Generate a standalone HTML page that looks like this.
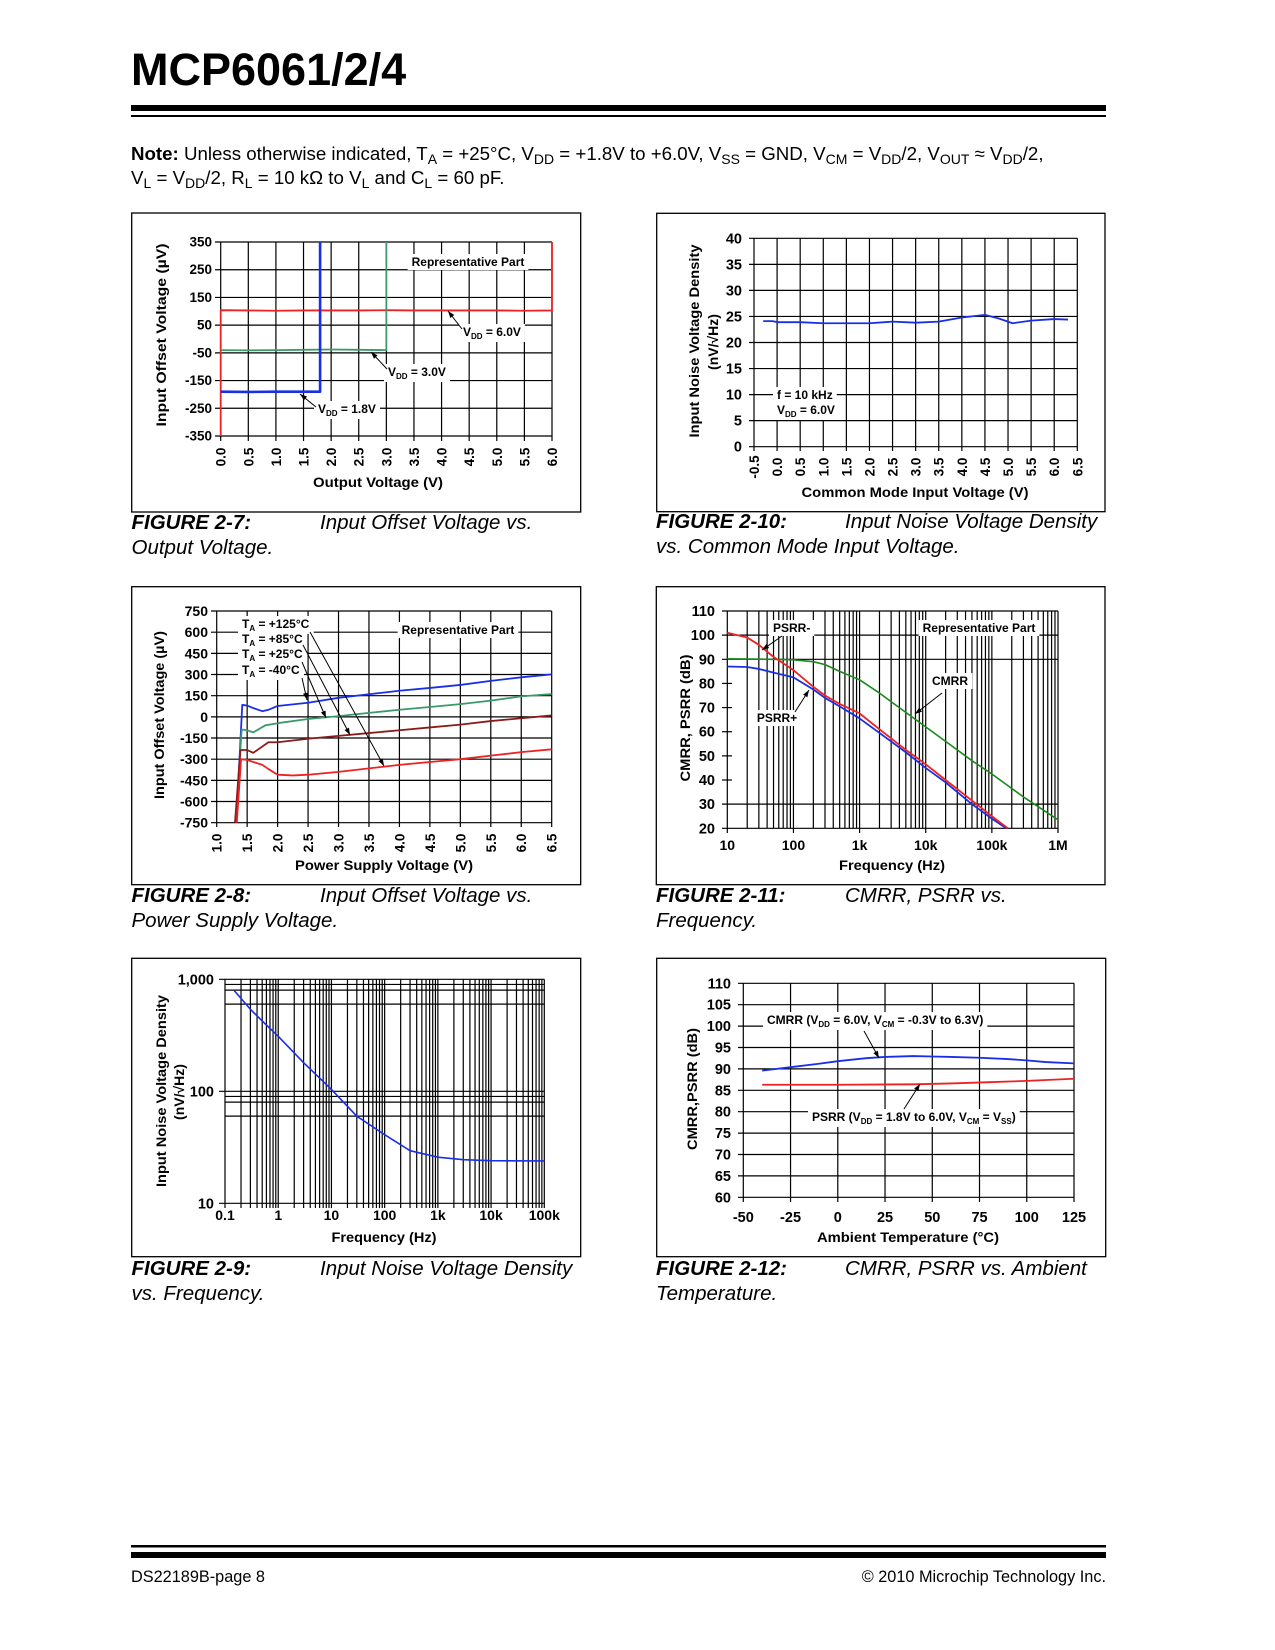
<!DOCTYPE html>
<html><head><meta charset="utf-8">
<style>
html,body{margin:0;padding:0;background:#fff;}
body{width:1275px;height:1650px;position:relative;overflow:hidden;font-family:"Liberation Sans",Arial,sans-serif;}
#note{position:absolute;left:131px;top:142px;font-size:18.7px;line-height:24px;color:#000;white-space:nowrap;}
#note sub{font-size:14px;vertical-align:-4px;line-height:0;}
svg{position:absolute;left:0;top:0;}
</style></head>
<body>
<div id="note"><b>Note:</b> Unless otherwise indicated, T<sub>A</sub> = +25°C, V<sub>DD</sub> = +1.8V to +6.0V, V<sub>SS</sub> = GND, V<sub>CM</sub> = V<sub>DD</sub>/2, V<sub>OUT</sub> ≈ V<sub>DD</sub>/2,<br>V<sub>L</sub> = V<sub>DD</sub>/2, R<sub>L</sub> = 10 kΩ to V<sub>L</sub> and C<sub>L</sub> = 60 pF.</div>
<svg id="page" width="1275" height="1650" viewBox="0 0 1275 1650" xmlns="http://www.w3.org/2000/svg" font-family="Liberation Sans, Arial, sans-serif">
<text x="131" y="85" font-size="45" font-weight="bold">MCP6061/2/4</text>
<rect x="131" y="105" width="975" height="6" fill="#000"/>
<rect x="131" y="115" width="975" height="2" fill="#000"/>
<rect x="131" y="1545" width="975" height="2.5" fill="#000"/>
<rect x="131" y="1552" width="975" height="6" fill="#000"/>
<text x="131" y="1582" font-size="16.3">DS22189B-page 8</text>
<text x="1106" y="1582" font-size="16.3" text-anchor="end">© 2010 Microchip Technology Inc.</text>
</svg>
<script>
// ---------- chart data ----------
// Fig 2-7
const f7RedX=[0,0,0.5,1,1.5,2,2.5,3,3.5,4,4.5,5,5.5,6,6];
const f7RedY=[-350,104,103,102,103,103,103,104,103,103,103,103,102,103,350];
const f7GreenX=[0,0.5,1,1.5,2,2.5,3,3];
const f7GreenY=[-40,-41,-40,-39,-38,-39,-40,350];
const f7BlueX=[0,0.5,1,1.5,1.8,1.8];
const f7BlueY=[-190,-191,-190,-190,-190,350];
const f7XTicks=["0.0","0.5","1.0","1.5","2.0","2.5","3.0","3.5","4.0","4.5","5.0","5.5","6.0"];
const f7YTicks=[350,250,150,50,-50,-150,-250,-350];
// Fig 2-10
const f10X=[-0.3,-0.1,0,0.5,1,1.5,2,2.5,3,3.5,4,4.5,4.8,5.1,5.5,6,6.3];
const f10Y=[24.1,24.1,23.9,23.9,23.7,23.7,23.7,24.0,23.8,24.0,24.8,25.3,24.6,23.7,24.2,24.5,24.4];
const f10XTicks=["-0.5","0.0","0.5","1.0","1.5","2.0","2.5","3.0","3.5","4.0","4.5","5.0","5.5","6.0","6.5"];
const f10YTicks=[40,35,30,25,20,15,10,5,0];
// Fig 2-8
const f8BlueX=[1.32,1.42,1.5,1.6,1.75,1.85,2.0,2.5,3.0,3.5,4.0,4.5,5.0,5.5,6.0,6.5];
const f8BlueY=[-750,85,80,62,40,50,77,100,135,160,185,205,226,255,280,301];
const f8GreenX=[1.31,1.41,1.5,1.6,1.8,2.0,2.5,3.0,3.5,4.0,4.5,5.0,5.5,6.0,6.5];
const f8GreenY=[-750,-90,-95,-110,-60,-45,-15,5,28,50,70,90,115,145,162];
const f8BrownX=[1.3,1.39,1.5,1.6,1.85,2.0,2.5,3.0,3.5,4.0,4.5,5.0,5.5,6.0,6.5];
const f8BrownY=[-750,-235,-235,-255,-180,-180,-155,-135,-115,-95,-75,-55,-30,-10,10];
const f8RedX=[1.33,1.4,1.5,1.6,1.75,1.85,2.0,2.25,2.5,3.0,3.5,4.0,4.5,5.0,5.5,6.0,6.5];
const f8RedY=[-750,-300,-305,-320,-340,-370,-410,-415,-410,-390,-365,-340,-320,-300,-275,-250,-230];
const f8XTicks=["1.0","1.5","2.0","2.5","3.0","3.5","4.0","4.5","5.0","5.5","6.0","6.5"];
const f8YTicks=[750,600,450,300,150,0,-150,-300,-450,-600,-750];
// Fig 2-11
const f11F=[10,20,30,50,100,200,300,500,1000,2000,5000,10000,20000,50000,100000,175000];
const f11PsrrMinus=[101,99,96,91,85.5,78.6,75,71.5,67.6,61,52.5,46.5,40,31.5,25,20];
const f11PsrrPlusF=[10,20,30,50,100,200,300,500,1000,2000,5000,10000,20000,50000,100000,165000];
const f11PsrrPlus=[87,86.8,86,84.5,82.5,77.5,74,70.5,65.5,59.5,51.5,45,39,30,24,20];
const f11CmrrF=[10,50,100,200,300,500,1000,2000,5000,10000,20000,50000,100000,300000,1000000];
const f11Cmrr=[90.2,90,89.8,89,87.8,85,81.5,76,68,62,56,48,42.5,33,23.5];
const f11XTicks=["10","100","1k","10k","100k","1M"];
const f11YTicks=[110,100,90,80,70,60,50,40,30,20];
// Fig 2-9
const f9F=[0.15,0.3,0.6,1,3,10,30,100,300,1000,3000,10000,100000];
const f9N=[790,540,390,310,180,104,60,41,29.5,25.8,24.5,24,23.9];
const f9XTicks=["0.1","1","10","100","1k","10k","100k"];
const f9YTicks=["1,000","100","10"];
// Fig 2-12
const f12T=[-40,-25,-10,0,15,25,40,50,60,75,90,100,110,125];
const f12Cmrr=[89.6,90.4,91.2,91.8,92.5,92.8,93.0,92.9,92.8,92.6,92.3,92.0,91.6,91.3];
const f12PsrrT=[-40,0,40,60,80,100,125];
const f12Psrr=[86.3,86.3,86.4,86.6,86.9,87.2,87.7];
const f12XTicks=[-50,-25,0,25,50,75,100,125];
const f12YTicks=[110,105,100,95,90,85,80,75,70,65,60];

// ---------- helpers ----------
const NS='http://www.w3.org/2000/svg';
const page=document.getElementById('page');
function mk(parent,tag,attrs,name){
  const el=document.createElementNS(NS,tag);
  for(const k in attrs) el.setAttribute(k,attrs[k]);
  
  
  parent.appendChild(el);
  return el;
}
function lin(d0,d1,p0,p1){return v=>p0+(v-d0)/(d1-d0)*(p1-p0);}
function lg(d0,d1,p0,p1){return v=>p0+(Math.log10(v)-Math.log10(d0))/(Math.log10(d1)-Math.log10(d0))*(p1-p0);}
function txt(g,x,y,html,o){
  o=o||{};
  const t=mk(g,'text',{x:x,y:y,'font-size':o.size||12,'font-weight':o.weight||'bold','text-anchor':o.anchor||'start','font-style':o.style||'normal'},o.name||'label');
  if(o.rot) t.setAttribute('transform','rotate(-90 '+x+' '+y+')');
  t.innerHTML=html;
  if(o.len){t.setAttribute('textLength',o.len);t.setAttribute('lengthAdjust','spacingAndGlyphs');}
  if(o.bg){
    const b=t.getBBox();
    const r=document.createElementNS(NS,'rect');
    r.setAttribute('x',b.x-4);r.setAttribute('y',b.y-1);r.setAttribute('width',b.width+8);r.setAttribute('height',b.height+2);r.setAttribute('fill','#fff');
    
    
    g.insertBefore(r,t);
  }
  return t;
}
function sub(s){return '<tspan dy="3" font-size="8">'+s+'</tspan><tspan dy="-3">';}
function ln(g,x1,y1,x2,y2,name,w,c){return mk(g,'line',{x1:x1,y1:y1,x2:x2,y2:y2,stroke:c||'#000','stroke-width':w||1.2},name);}
function series(g,xs,ys,sx,sy,color,w,name){
  let d='';
  for(let i=0;i<xs.length;i++){d+=(i?'L':'M')+sx(xs[i]).toFixed(2)+' '+sy(ys[i]).toFixed(2);}
  return mk(g,'path',{d:d,fill:'none',stroke:color,'stroke-width':w,'stroke-linejoin':'round'},name);
}
function arrow(g,x1,y1,x2,y2,name){
  ln(g,x1,y1,x2,y2,name,1);
  const a=Math.atan2(y2-y1,x2-x1),L=7,W=2.5;
  const p=[[x2,y2],[x2-L*Math.cos(a)+W*Math.sin(a),y2-L*Math.sin(a)-W*Math.cos(a)],[x2-L*Math.cos(a)-W*Math.sin(a),y2-L*Math.sin(a)+W*Math.cos(a)]];
  mk(g,'polygon',{points:p.map(q=>q.join(',')).join(' '),fill:'#000'},name+'-head');
}
function frame(x1,y1,x2,y2,name){mk(page,'rect',{x:x1,y:y1,width:x2-x1,height:y2-y1,fill:'none',stroke:'#000','stroke-width':1.3},name);}
function caption(x,y,num,l1,l2,dx){
  txt(page,x,y,'FIGURE '+num+':',{size:20.5,weight:'bold',style:'italic',name:'figure-'+num.replace('.','-')+'-number'});
  txt(page,dx,y,l1,{size:20.5,weight:'normal',style:'italic',name:'figure-caption'});
  txt(page,x,y+25,l2,{size:20.5,weight:'normal',style:'italic',name:'figure-caption-line2'});
}

// ---------- Figure 2-7 ----------
(function(){
  const g=mk(page,'g',{},'figure-2-7-chart');
  frame(131.7,213,580.7,512,'figure-2-7-frame');
  const sx=lin(0,6,220.7,552), sy=lin(-350,350,436,242);
  f7YTicks.forEach(v=>{ln(g,215,sy(v),552,sy(v),'h-gridline');txt(g,212,sy(v)+4.5,v,{size:13.5,anchor:'end',name:'y-tick-label'});});
  f7XTicks.forEach(v=>{const x=sx(+v);ln(g,x,242,x,441,'v-gridline');txt(g,x+5,457,v,{size:13.5,anchor:'middle',rot:true,name:'x-tick-label'});});
  txt(g,468,266,'Representative Part',{size:12,anchor:'middle',bg:true,name:'representative-part-note'});
  txt(g,463,336,'V'+sub('DD')+' = 6.0V</tspan>',{size:12,bg:true,name:'vdd-6v-label'});
  txt(g,388,376,'V'+sub('DD')+' = 3.0V</tspan>',{size:12,bg:true,name:'vdd-3v-label'});
  txt(g,318,413,'V'+sub('DD')+' = 1.8V</tspan>',{size:12,bg:true,name:'vdd-1-8v-label'});
  series(g,f7RedX,f7RedY,sx,sy,'#ee2222',1.8,'vdd-6v-line');
  series(g,f7GreenX,f7GreenY,sx,sy,'#3a9a6a',1.8,'vdd-3v-line');
  series(g,f7BlueX,f7BlueY,sx,sy,'#1a2ee8',2.6,'vdd-1-8v-line');
  arrow(g,462,329,448,311,'vdd-6v-arrow');
  arrow(g,387,369,371,352,'vdd-3v-arrow');
  arrow(g,316,407,300,394,'vdd-1-8v-arrow');
  txt(g,166,335,'Input Offset Voltage (µV)',{size:14,anchor:'middle',rot:true,len:183,name:'y-axis-title'});
  txt(g,378,487,'Output Voltage (V)',{size:14,anchor:'middle',len:130,name:'x-axis-title'});
})();
caption(131.5,529,'2-7','Input Offset Voltage vs.','Output Voltage.',320);

// ---------- Figure 2-10 ----------
(function(){
  const g=mk(page,'g',{},'figure-2-10-chart');
  frame(656.7,213.3,1105,511.7,'figure-2-10-frame');
  const sx=lin(-0.5,6.5,754,1077.3), sy=lin(0,40,446.7,238.3);
  f10YTicks.forEach(v=>{ln(g,749,sy(v),1077.3,sy(v),'h-gridline');txt(g,742,sy(v)+5,v,{size:14.5,anchor:'end',name:'y-tick-label'});});
  f10XTicks.forEach(v=>{const x=sx(+v);ln(g,x,238.3,x,451,'v-gridline');txt(g,x+5,467,v,{size:13.5,anchor:'middle',rot:true,name:'x-tick-label'});});
  txt(g,777,399,'f = 10 kHz',{size:12,bg:true,name:'frequency-note'});
  txt(g,777,414,'V'+sub('DD')+' = 6.0V</tspan>',{size:12,bg:true,name:'vdd-note'});
  series(g,f10X,f10Y,sx,sy,'#1a2ee8',1.8,'noise-density-line');
  txt(g,699,341,'Input Noise Voltage Density',{size:14,anchor:'middle',rot:true,len:193,name:'y-axis-title'});
  txt(g,718,342,'(nV/√Hz)',{size:14,anchor:'middle',rot:true,name:'y-axis-unit'});
  txt(g,915,497,'Common Mode Input Voltage (V)',{size:14,anchor:'middle',len:227,name:'x-axis-title'});
})();
caption(656,528,'2-10','Input Noise Voltage Density','vs. Common Mode Input Voltage.',845);

// ---------- Figure 2-8 ----------
(function(){
  const g=mk(page,'g',{},'figure-2-8-chart');
  frame(131.7,586.7,580.7,884.7,'figure-2-8-frame');
  const sx=lin(1,6.5,216.7,551.7), sy=lin(-750,750,822.7,611);
  f8YTicks.forEach(v=>{ln(g,211,sy(v),551.7,sy(v),'h-gridline');txt(g,208,sy(v)+5,v,{size:14,anchor:'end',name:'y-tick-label'});});
  f8XTicks.forEach(v=>{const x=sx(+v);ln(g,x,611,x,827,'v-gridline');txt(g,x+5,843,v,{size:13.5,anchor:'middle',rot:true,name:'x-tick-label'});});
  txt(g,458,634,'Representative Part',{size:12,anchor:'middle',bg:true,name:'representative-part-note'});
  txt(g,242,628,'T'+sub('A')+' = +125°C</tspan>',{size:12,bg:true,name:'ta-125-label'});
  txt(g,242,643,'T'+sub('A')+' = +85°C</tspan>',{size:12,bg:true,name:'ta-85-label'});
  txt(g,242,658,'T'+sub('A')+' = +25°C</tspan>',{size:12,bg:true,name:'ta-25-label'});
  txt(g,242,674,'T'+sub('A')+' = -40°C</tspan>',{size:12,bg:true,name:'ta-minus40-label'});
  series(g,f8BlueX,f8BlueY,sx,sy,'#1a2ee8',1.8,'ta-minus40-line');
  series(g,f8GreenX,f8GreenY,sx,sy,'#3a9a6a',1.8,'ta-25-line');
  series(g,f8BrownX,f8BrownY,sx,sy,'#8b1a1a',1.8,'ta-85-line');
  series(g,f8RedX,f8RedY,sx,sy,'#ee2222',1.8,'ta-125-line');
  arrow(g,310,632,384,766,'ta-125-arrow');
  arrow(g,303,645,350,735,'ta-85-arrow');
  arrow(g,302,662,326,718,'ta-25-arrow');
  arrow(g,302,678,307,700,'ta-minus40-arrow');
  txt(g,164,715,'Input Offset Voltage (µV)',{size:14,anchor:'middle',rot:true,len:168,name:'y-axis-title'});
  txt(g,384,870,'Power Supply Voltage (V)',{size:14,anchor:'middle',len:178,name:'x-axis-title'});
})();
caption(131.5,902,'2-8','Input Offset Voltage vs.','Power Supply Voltage.',320);

// ---------- Figure 2-11 ----------
(function(){
  const g=mk(page,'g',{},'figure-2-11-chart');
  frame(656.3,586.7,1105,884.7,'figure-2-11-frame');
  const sx=lg(10,1e6,727.3,1058), sy=lin(20,110,828.3,611);
  f11YTicks.forEach(v=>{const full=(v===110||v===100||v===90||v===30||v===20);ln(g,722,sy(v),full?1058:732,sy(v),'h-gridline');txt(g,715,sy(v)+5,v,{size:14.5,anchor:'end',name:'y-tick-label'});});
  for(let d=10;d<1e6;d*=10){for(let m=1;m<10;m++){const x=sx(d*m);ln(g,x,611,x,m===1?833:828.3,m===1?'decade-gridline':'minor-gridline');}}
  ln(g,sx(1e6),611,sx(1e6),833,'decade-gridline');
  f11XTicks.forEach((v,i)=>{txt(g,sx(10*Math.pow(10,i)),850,v,{size:14,anchor:'middle',name:'x-tick-label'});});
  txt(g,773,632,'PSRR-',{size:12,bg:true,name:'psrr-minus-label'});
  txt(g,979,632,'Representative Part',{size:12,anchor:'middle',bg:true,name:'representative-part-note'});
  txt(g,950,685,'CMRR',{size:12,anchor:'middle',bg:true,name:'cmrr-label'});
  txt(g,777,722,'PSRR+',{size:12,anchor:'middle',bg:true,name:'psrr-plus-label'});
  series(g,f11CmrrF,f11Cmrr,sx,sy,'#1a8a1a',1.6,'cmrr-line');
  series(g,f11PsrrPlusF,f11PsrrPlus,sx,sy,'#1a2ee8',1.8,'psrr-plus-line');
  series(g,f11F,f11PsrrMinus,sx,sy,'#ee2222',1.8,'psrr-minus-line');
  arrow(g,782,636,762,650,'psrr-minus-arrow');
  arrow(g,795,712,809,690,'psrr-plus-arrow');
  arrow(g,942,693,915,714,'cmrr-arrow');
  txt(g,690,718,'CMRR, PSRR (dB)',{size:14,anchor:'middle',rot:true,len:127,name:'y-axis-title'});
  txt(g,892,870,'Frequency (Hz)',{size:14,anchor:'middle',len:106,name:'x-axis-title'});
})();
caption(656,902,'2-11','CMRR, PSRR vs.','Frequency.',845);

// ---------- Figure 2-9 ----------
(function(){
  const g=mk(page,'g',{},'figure-2-9-chart');
  frame(131.7,958.3,580.7,1256.7,'figure-2-9-frame');
  const sx=lg(0.1,1e5,225,544.3), sy=lg(10,1000,1203.3,979.3);
  [1000,900,800,600,100,90,80,60,10].forEach(v=>{ln(g,v===1000||v===100||v===10?219:225,sy(v),544.3,sy(v),'h-gridline');});
  for(let d=0.1;d<1e5;d*=10){for(let m=1;m<10;m++){ln(g,sx(d*m),979.3,sx(d*m),1208,'v-gridline');}}
  ln(g,544.3,979.3,544.3,1208,'v-gridline');
  f9YTicks.forEach((v,i)=>{txt(g,214,sy(1000/Math.pow(10,i))+5,v,{size:14.5,anchor:'end',name:'y-tick-label'});});
  f9XTicks.forEach((v,i)=>{txt(g,sx(0.1*Math.pow(10,i)),1220,v,{size:14,anchor:'middle',name:'x-tick-label'});});
  series(g,f9F,f9N,sx,sy,'#1a2ee8',1.6,'noise-density-line');
  txt(g,166,1091,'Input Noise Voltage Density',{size:14,anchor:'middle',rot:true,len:192,name:'y-axis-title'});
  txt(g,184,1092,'(nV/√Hz)',{size:14,anchor:'middle',rot:true,name:'y-axis-unit'});
  txt(g,384,1242,'Frequency (Hz)',{size:14,anchor:'middle',len:105,name:'x-axis-title'});
})();
caption(131.5,1275,'2-9','Input Noise Voltage Density','vs. Frequency.',320);

// ---------- Figure 2-12 ----------
(function(){
  const g=mk(page,'g',{},'figure-2-12-chart');
  frame(656.7,958.3,1105.7,1256.7,'figure-2-12-frame');
  const sx=lin(-50,125,743.3,1074), sy=lin(60,110,1197.3,983.3);
  f12YTicks.forEach(v=>{ln(g,738,sy(v),1074,sy(v),'h-gridline');txt(g,731,sy(v)+5,v,{size:14.5,anchor:'end',name:'y-tick-label'});});
  f12XTicks.forEach(v=>{const x=sx(v);ln(g,x,983.3,x,1202,'v-gridline');txt(g,x,1222,v,{size:14.5,anchor:'middle',name:'x-tick-label'});});
  txt(g,767,1024,'CMRR (V'+sub('DD')+' = 6.0V, V'+sub('CM')+' = -0.3V to 6.3V)</tspan></tspan>',{size:12,bg:true,name:'cmrr-label'});
  txt(g,812,1121,'PSRR (V'+sub('DD')+' = 1.8V to 6.0V, V'+sub('CM')+' = V'+sub('SS')+')</tspan></tspan></tspan>',{size:12,bg:true,name:'psrr-label'});
  series(g,f12T,f12Cmrr,sx,sy,'#1a2ee8',1.8,'cmrr-line');
  series(g,f12PsrrT,f12Psrr,sx,sy,'#ee2222',1.8,'psrr-line');
  arrow(g,864,1031,879,1058,'cmrr-arrow');
  arrow(g,904,1109,920,1084,'psrr-arrow');
  txt(g,697,1089,'CMRR,PSRR (dB)',{size:14,anchor:'middle',rot:true,len:122,name:'y-axis-title'});
  txt(g,908,1242,'Ambient Temperature (°C)',{size:14,anchor:'middle',len:182,name:'x-axis-title'});
})();
caption(656,1275,'2-12','CMRR, PSRR vs. Ambient','Temperature.',845);
</script>
</body></html>
